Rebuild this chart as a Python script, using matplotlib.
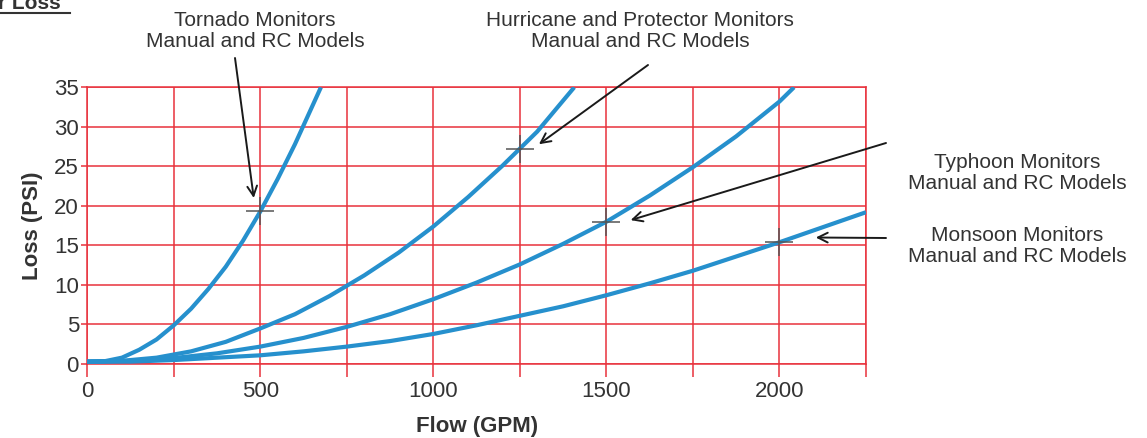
import matplotlib
matplotlib.use("Agg")
import matplotlib.pyplot as plt
from matplotlib.ticker import MultipleLocator, FuncFormatter

plt.rcParams['font.family'] = ['Liberation Sans', 'DejaVu Sans']

# values (flow in GPM, loss in PSI)
tornado_flow = [0, 50, 100, 150, 200, 250, 300, 350, 400, 450, 500, 550, 600, 650, 675]
tornado_loss = [0.3, 0.35, 0.8, 1.8, 3.1, 4.9, 7.0, 9.5, 12.3, 15.6, 19.3, 23.4, 27.8, 32.6, 35.0]

hurricane_flow = [0, 100, 200, 300, 400, 500, 600, 700, 800, 900, 1000, 1100, 1200, 1300, 1407]
hurricane_loss = [0.3, 0.4, 0.8, 1.6, 2.8, 4.5, 6.3, 8.6, 11.2, 14.1, 17.4, 21.1, 25.1, 29.4, 35.0]

typhoon_flow = [0, 125, 250, 375, 500, 625, 750, 875, 1000, 1125, 1250, 1375, 1500,
                1625, 1750, 1875, 2000, 2042]
typhoon_loss = [0.3, 0.4, 0.75, 1.35, 2.2, 3.3, 4.7, 6.3, 8.2, 10.3, 12.6, 15.2, 18.0,
                21.3, 24.9, 28.8, 33.2, 35.0]

monsoon_flow = [0, 125, 250, 375, 500, 625, 750, 875, 1000, 1125, 1250, 1375, 1500,
                1625, 1750, 1875, 2000, 2125, 2250]
monsoon_loss = [0.3, 0.3, 0.5, 0.8, 1.1, 1.6, 2.2, 2.9, 3.8, 4.9, 6.1, 7.3, 8.7,
                10.2, 11.8, 13.6, 15.4, 17.3, 19.2]

# rated points (cross marks) and arrow tips
mark_flow = [500, 1250, 1500, 2000]
mark_loss = [19.3, 27.2, 18.0, 15.4]
tip_flow = [481, 1305, 1570, 2105]
tip_loss = [21.0, 27.8, 18.2, 16.0]

labels = ["Tornado Monitors\nManual and RC Models",
          "Hurricane and Protector Monitors\nManual and RC Models",
          "Typhoon Monitors\nManual and RC Models",
          "Monsoon Monitors\nManual and RC Models"]

W, H = 1147, 438
fig = plt.figure(figsize=(W / 100, H / 100), dpi=100)
ax = fig.add_axes([87.3 / W, 1 - 364 / H, (866 - 87.3) / W, (364 - 87.3) / H])

red = '#e8313c'
blue = '#2690cd'
txt = '#333333'

for fl, ls in [(tornado_flow, tornado_loss), (hurricane_flow, hurricane_loss),
               (typhoon_flow, typhoon_loss), (monsoon_flow, monsoon_loss)]:
    ax.plot(fl, ls, color=blue, lw=3, solid_capstyle='butt', solid_joinstyle='round', zorder=3)

ax.plot(mark_flow, mark_loss, ls='none', marker='+', ms=20, mew=1.1,
        color='#555555', zorder=4)

ax.set_xlim(0, 2250)
ax.set_ylim(0, 35)
ax.xaxis.set_major_locator(MultipleLocator(250))
ax.yaxis.set_major_locator(MultipleLocator(5))
ax.xaxis.set_major_formatter(FuncFormatter(lambda v, p: '%d' % v if v % 500 == 0 else ''))
ax.grid(True, color=red, lw=1.1)
for s in ax.spines.values():
    s.set_color(red)
    s.set_linewidth(1.1)
ax.tick_params(axis='x', colors=red, length=9, width=1.1, labelcolor=txt, labelsize=16, pad=3)
ax.tick_params(axis='y', colors=red, length=4, width=1.1, labelcolor=txt, labelsize=16, pad=2)
ax.set_xlabel('Flow (GPM)', fontsize=16, fontweight='bold', color=txt, labelpad=10)
ax.set_ylabel('Loss (PSI)', fontsize=16, fontweight='bold', color=txt, labelpad=8)


def px(x, y):
    return (x / W, 1 - y / H)


text_pos = [(255, 31), (640, 31), (1017, 173), (1017, 246)]
tail_pos = [(235, 58), (648, 65), (886, 143), (886, 238)]
for lab, tp, tl, fx, fy in zip(labels, text_pos, tail_pos, tip_flow, tip_loss):
    fig.text(*px(*tp), lab, ha='center', va='center', fontsize=15,
             color=txt, linespacing=1.1)
    ax.annotate('', xy=(fx, fy), xycoords='data',
                xytext=px(*tl), textcoords='figure fraction',
                arrowprops=dict(arrowstyle='->,head_length=0.7,head_width=0.35',
                                color='#1a1a1a', lw=1.4, shrinkA=0, shrinkB=0),
                zorder=5)

# cropped heading in the top-left corner
fig.text(*px(-2, 9), 'r Loss', fontsize=15, fontweight='bold', color=txt,
         ha='left', va='baseline')
fig.add_artist(plt.Line2D([0, 70 / W], [1 - 13 / H, 1 - 13 / H], color=txt, lw=1.5))

fig.savefig('out.png', dpi=100)
